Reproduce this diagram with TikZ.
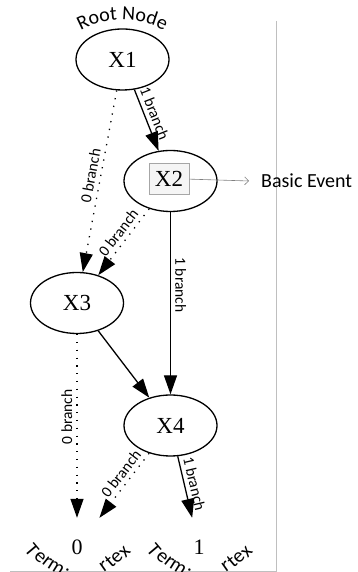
\documentclass[tikz,border=0pt]{standalone}
\usepackage{fontspec}
\newfontfamily\lblfont{Carlito}
\newfontfamily\varfont{Liberation Serif}
\newcommand{\curvefont}{\lblfont\fontsize{20}{20}\selectfont}
\usetikzlibrary{shapes,arrows.meta,positioning}

\begin{document}
\begin{tikzpicture}[x=1pt, y=1pt,
    var/.style={ellipse, draw, line width=1.3pt, minimum width=93pt, minimum height=61pt, inner sep=0pt, font=\varfont\fontsize{23}{23}\selectfont},
    term/.style={rectangle, minimum width=60pt, minimum height=58pt, inner sep=0pt, font=\varfont\fontsize{22}{22}\selectfont},
    event/.style={rectangle, draw=gray!70, fill=gray!8, line width=0.8pt, minimum width=40pt, minimum height=31pt, inner sep=0pt, font=\varfont\fontsize{23}{23}\selectfont},
    one/.style={-{Triangle[length=19pt,width=13pt]}, line width=1.3pt},
    zero/.style={one, dash pattern=on 1.3pt off 6.5pt},
    lbl/.style={font=\lblfont\fontsize{15.5}{15.5}\selectfont, inner sep=4pt},
    chr/.style={font=\curvefont, inner sep=0pt}]

\useasboundingbox (0,0) rectangle (357,572);
\clip (0,0) rectangle (357,572);

% Frame
\draw[gray!50, line width=0.8pt] (276,551) -- (276,0.5) -- (10,0.5);

% Nodes
\node[var] (x1) at (122.5,512.5) {X1};
\node[var] (x2) at (170.5,391) {};
\node[event] (x2box) at (169,393.5) {X2};
\node[var] (x3) at (77,269) {X3};
\node[var] (x4) at (170.5,146.5) {X4};
\node[term] (t0) at (77,25) {0};
\node[term] (t1) at (199,25) {1};
\node[anchor=west, inner sep=0pt, font=\curvefont] (basic) at (261,391) {Basic Event};

% Connections
\draw[one] (x1) -- node[lbl, sloped, above, pos=0.45] {1 branch} (x2);
\draw[zero] (x1) -- node[lbl, sloped, above, pos=0.48] {0 branch} (x3);
\draw[zero] (x2) -- node[lbl, sloped, above, pos=0.45] {0 branch} (x3);
\draw[one] (x2) -- node[lbl, sloped, above, pos=0.4] {1 branch} (x4);
\draw[one] (x3) -- (x4);
\draw[zero] (x3) -- node[lbl, rotate=90, above, pos=0.45] {0 branch} (t0);
\draw[zero] (x4) -- node[lbl, sloped, above, pos=0.41] {0 branch} (t0);
\draw[one] (x4) -- node[lbl, sloped, above, pos=0.48] {1 branch} (t1);
\draw[gray, line width=0.6pt, -{Straight Barb[length=4pt,width=8pt]}] (x2box) -- ([xshift=-12pt]basic.west);

% Labels (one letter at a time, bent round the nodes)
\coordinate (rootc) at ([yshift=-47.5pt]x1.center);
\foreach \c/\a [count=\i] in {R/115.2, o/108.15, o/101.25, t/95.6, N/86.2, o/78.5, d/71.55, e/64.8}
  \node[chr, anchor=base, rotate=\a-90] (root\i) at ([shift={(\a:87)}]rootc) {\c};
\foreach \t in {t0,t1}
  \foreach \c/\dx/\dy/\r [count=\i] in {T/-45/-3/-50, e/-37/-10/-43, r/-30/-15/-38, m/-21/-21/-32, i/-12/-28/-25,
      n/-4/-36/-15, a/3/-39/-5, l/9/-39/5, V/15/-38/12, e/21/-34/22, r/27/-20/35, t/33/-15/40, e/40/-10.5/45, x/48/-5.5/50}
    \node[chr, rotate=\r] (\t c\i) at ([shift={(\dx,\dy)}]\t.center) {\c};
\end{tikzpicture}
\end{document}
